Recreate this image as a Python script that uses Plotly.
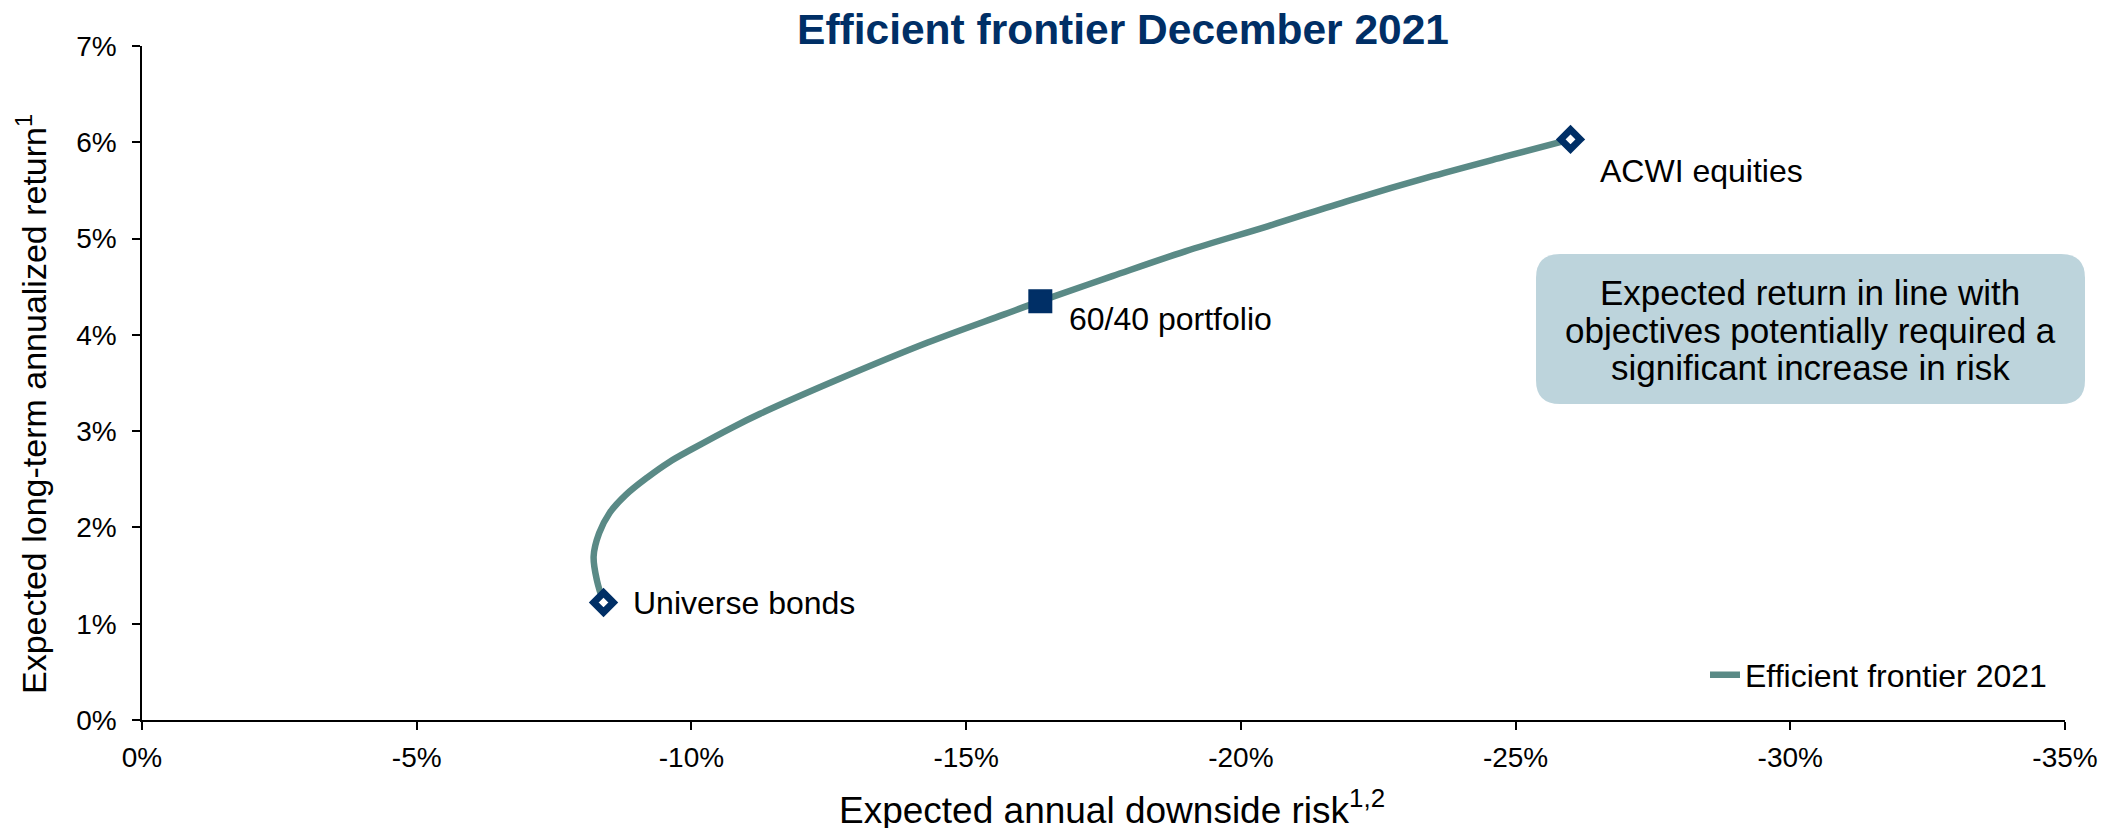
import plotly.graph_objects as go

# ---------------- data ----------------
frontier_risk = [-8.40, -8.28, -8.22, -8.32, -8.51, -8.81, -9.20, -9.60, -10.00, -10.75,
                 -11.25, -12.60, -14.30, -15.68, -16.35, -17.66, -19.00, -20.50, -22.00,
                 -23.50, -24.80, -26.00]
frontier_return = [1.22, 1.45, 1.70, 1.94, 2.15, 2.34, 2.52, 2.68, 2.81, 3.04,
                   3.18, 3.52, 3.92, 4.21, 4.35, 4.61, 4.87, 5.13, 5.40,
                   5.65, 5.85, 6.03]

point_names = ["Universe bonds", "60/40 portfolio", "ACWI equities"]
point_risk = [-8.40, -16.35, -26.00]
point_return = [1.22, 4.35, 6.03]

x_tickvals = [0, -5, -10, -15, -20, -25, -30, -35]
x_ticktext = ["0%", "-5%", "-10%", "-15%", "-20%", "-25%", "-30%", "-35%"]
y_tickvals = [0, 1, 2, 3, 4, 5, 6, 7]
y_ticktext = ["0%", "1%", "2%", "3%", "4%", "5%", "6%", "7%"]

title_text = "<b>Efficient frontier December 2021</b>"
x_title = "Expected annual downside risk<sup>1,2</sup>"
y_title = "Expected long-term annualized return<sup>1</sup>"
series_name = "Efficient frontier 2021"
box_lines = ["Expected return in line with",
             "objectives potentially required a",
             "significant increase in risk"]

# ---------------- styling / layout ----------------
OFF = 8                      # page body margin around the plot div
W, H = 2108 - 2 * OFF, 828 - OFF
# screen-space plot edges
SX0, SX1, SY0, SY1 = 142, 2065, 46, 720
L, T = SX0 - OFF, SY0 - OFF
R, B = W - (SX1 - OFF), H - (SY1 - OFF)
PW, PH = SX1 - SX0, SY1 - SY0
FONT = "Arial, 'Liberation Sans', sans-serif"
NAVY = "#002F66"
TEAL = "#5A8A86"
BOXC = "#BDD4DC"


def px_x(px):
    return (px - SX0) / PW


def px_y(py):
    return (SY1 - py) / PH


fig = go.Figure()

fig.add_trace(go.Scatter(
    x=frontier_risk, y=frontier_return, mode="lines", name=series_name,
    line=dict(color=TEAL, width=6.5, shape="spline", smoothing=1.0),
    showlegend=True, hoverinfo="skip",
))

fig.add_trace(go.Scatter(
    x=point_risk, y=point_return, mode="markers", showlegend=False,
    text=point_names, hoverinfo="text",
    marker=dict(symbol=["diamond", "square", "diamond"],
                color=["white", NAVY, "white"],
                size=[15, 22, 15], opacity=1,
                line=dict(color=NAVY, width=[7, 2, 7])),
))

label_yshift = [0, -18, -32]
annotations = []
for name, xr, yr, ys in zip(point_names, point_risk, point_return, label_yshift):
    annotations.append(dict(
        x=xr, y=yr, xref="x", yref="y", text=name, showarrow=False,
        xanchor="left", yanchor="middle", xshift=27, yshift=ys,
        font=dict(family=FONT, size=32, color="black"),
    ))

# axis titles
annotations.append(dict(
    x=0, y=px_y(404), xref="paper", yref="paper", text=y_title, showarrow=False,
    textangle=-90, xanchor="center", yanchor="middle", xshift=31 - SX0,
    font=dict(family=FONT, size=34, color="black"),
))
annotations.append(dict(
    x=px_x(1112), y=0, xref="paper", yref="paper", text=x_title, showarrow=False,
    xanchor="center", yanchor="middle", yshift=-(807 - SY1),
    font=dict(family=FONT, size=37, color="black"),
))

# callout box text
for i, line in enumerate(box_lines):
    annotations.append(dict(
        x=px_x(1810), y=px_y(292 + 38 * i), xref="paper", yref="paper", text=line,
        showarrow=False, xanchor="center", yanchor="middle",
        font=dict(family=FONT, size=35, color="black"),
    ))

# rounded callout box
bx0, bx1 = px_x(1536), px_x(2085)
by0, by1 = px_y(404), px_y(254)
rx, ry = 24 / PW, 24 / PH
path = (f"M {bx0+rx},{by0} L {bx1-rx},{by0} Q {bx1},{by0} {bx1},{by0+ry} "
        f"L {bx1},{by1-ry} Q {bx1},{by1} {bx1-rx},{by1} "
        f"L {bx0+rx},{by1} Q {bx0},{by1} {bx0},{by1-ry} "
        f"L {bx0},{by0+ry} Q {bx0},{by0} {bx0+rx},{by0} Z")

fig.update_layout(
    width=W, height=H,
    margin=dict(l=L, r=R, t=T, b=B, autoexpand=False),
    paper_bgcolor="white", plot_bgcolor="white",
    font=dict(family=FONT, color="black"),
    title=dict(text=title_text, x=px_x(1123), xref="paper", xanchor="center",
               y=1 - (29 - OFF) / H, yref="container", yanchor="middle",
               font=dict(family=FONT, size=42.5, color=NAVY)),
    shapes=[dict(type="path", path=path, xref="paper", yref="paper",
                 fillcolor=BOXC, line=dict(width=0), layer="below")],
    annotations=annotations,
    legend=dict(x=px_x(1705), y=px_y(675), xanchor="left", yanchor="middle",
                bgcolor="rgba(0,0,0,0)", font=dict(family=FONT, size=32, color="black"),
                itemwidth=30),
    showlegend=True,
)

axis_common = dict(showline=True, linecolor="black", linewidth=1.5, ticks="outside",
                   ticklen=8, tickwidth=1.5, tickcolor="black", showgrid=False,
                   zeroline=False, tickfont=dict(family=FONT, size=28, color="black"),
                   tickmode="array", fixedrange=True)

fig.update_xaxes(range=[0, -35], tickvals=x_tickvals, ticktext=x_ticktext,
                 ticklabelstandoff=4, **axis_common)
fig.update_yaxes(range=[0, 7], tickvals=y_tickvals, ticktext=y_ticktext,
                 ticklabelstandoff=10, **axis_common)

fig.write_html("out.html")
